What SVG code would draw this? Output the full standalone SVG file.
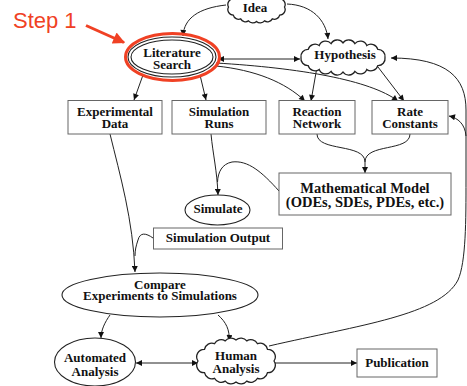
<svg xmlns="http://www.w3.org/2000/svg" width="467" height="386" viewBox="0 0 467 386">
<defs>
<marker id="ah" viewBox="0 0 10 10" refX="10" refY="5" markerUnits="userSpaceOnUse" markerWidth="10" markerHeight="6" orient="auto-start-reverse"><path d="M0,0 L10,5 L0,10 Z" fill="#111"/></marker>
<marker id="ahr" viewBox="0 0 10 10" refX="9" refY="5" markerUnits="userSpaceOnUse" markerWidth="16" markerHeight="12" orient="auto"><path d="M0,0 L10,5 L0,10 Z" fill="#f04124"/></marker>
</defs>
<style>
.c{fill:none;stroke:#222;stroke-width:1;}
.b{fill:#fff;stroke:#666;stroke-width:1;}
.e{fill:#fff;stroke:#222;stroke-width:1.1;}
.cl{fill:#fff;stroke:#222;stroke-width:1.3;}
.t{font-family:"Liberation Serif","Times New Roman",serif;font-weight:bold;font-size:13px;fill:#111;text-anchor:middle;}
</style>
<rect width="467" height="386" fill="#fff"/>
<g id="connectors">
<path class="c" d="M226,5 C199,8 184,18 183,36" marker-end="url(#ah)"/>
<path class="c" d="M287,4 C312,5 326,20 328,39" marker-end="url(#ah)"/>
<path class="c" d="M218,59 L300,59" marker-start="url(#ah)" marker-end="url(#ah)"/>
<path class="c" d="M216,66 C255,70 285,82 305,101" marker-end="url(#ah)"/>
<path class="c" d="M216,63 C300,68 370,80 398,101" marker-end="url(#ah)"/>
<path class="c" d="M317,67 L311,101" marker-end="url(#ah)"/>
<path class="c" d="M378,67 L404,101" marker-end="url(#ah)"/>
<path class="c" d="M317,134 C317,152 365,143 365,162 L365,173" marker-end="url(#ah)"/>
<path class="c" d="M410,134 C410,152 365,143 365,162"/>
<path class="c" d="M143,75 L134,100" marker-end="url(#ah)"/>
<path class="c" d="M200,75 L206,100" marker-end="url(#ah)"/>
<path class="c" d="M211,134 C213,155 217,170 218,195" marker-end="url(#ah)"/>
<path class="c" d="M279,191 C262,172 248,160 232,162 C222,164 218,172 217.5,182"/>
<path class="c" d="M110,134 C120,175 133,220 135,272" marker-end="url(#ah)"/>
<path class="c" d="M153,238 C146,233 140,232 138,240 C136,246 135,250 135,256"/>
<path class="c" d="M110,315 C105,322 101,330 101,338" marker-end="url(#ah)"/>
<path class="c" d="M218,315 C226,322 230,330 229,341" marker-end="url(#ah)"/>
<path class="c" d="M136,363 L198,363" marker-start="url(#ah)" marker-end="url(#ah)"/>
<path class="c" d="M275,363 L357,363" marker-end="url(#ah)"/>
<path class="c" d="M269,346 C360,325 440,315 458,280 C466,262 466,220 466,180 L466,110 C466,78 448,58 391,58" marker-end="url(#ah)"/>
<path class="c" d="M466,136 C465,124 458,118 449,116" marker-end="url(#ah)"/>
</g>
<g id="idea">
<path class="cl" d="M284.5,7 A5.5,5.5 0 0 1 279.7,15.1 A5.5,5.5 0 0 1 272.3,18.9 A5.5,5.5 0 0 1 264.5,20.9 A5.5,5.5 0 0 1 256.5,21.5 A5.5,5.5 0 0 1 248.5,20.9 A5.5,5.5 0 0 1 240.7,18.9 A5.5,5.5 0 0 1 233.3,15.1 A5.5,5.5 0 0 1 228.5,7 A5.5,5.5 0 0 1 233.3,-1.1 A5.5,5.5 0 0 1 240.7,-4.9 A5.5,5.5 0 0 1 248.5,-6.9 A5.5,5.5 0 0 1 256.5,-7.5 A5.5,5.5 0 0 1 264.5,-6.9 A5.5,5.5 0 0 1 272.3,-4.9 A5.5,5.5 0 0 1 279.7,-1.1 A5.5,5.5 0 0 1 284.5,7 Z"/>
<text class="t" x="255" y="11.5">Idea</text>
</g>
<g id="literature">
<ellipse class="e" cx="172" cy="57" rx="44" ry="20"/>
<ellipse class="e" cx="172" cy="57" rx="41" ry="17"/>
<text class="t" x="172" y="57">Literature</text>
<text class="t" x="172" y="69">Search</text>
</g>
<g id="hypothesis">
<path class="cl" d="M385,57.5 A7,7 0 0 1 377.8,65.6 A7,7 0 0 1 366.8,69.4 A7,7 0 0 1 354.9,71.4 A7,7 0 0 1 343,72 A7,7 0 0 1 331.1,71.4 A7,7 0 0 1 319.2,69.4 A7,7 0 0 1 308.2,65.6 A7,7 0 0 1 301,57.5 A7,7 0 0 1 308.2,49.4 A7,7 0 0 1 319.2,45.6 A7,7 0 0 1 331.1,43.6 A7,7 0 0 1 343,43 A7,7 0 0 1 354.9,43.6 A7,7 0 0 1 366.8,45.6 A7,7 0 0 1 377.8,49.4 A7,7 0 0 1 385,57.5 Z"/>
<text class="t" x="345" y="59">Hypothesis</text>
</g>
<g id="experimental-data">
<rect class="b" x="68" y="100.5" width="94" height="33.5"/>
<text class="t" x="115" y="115.5">Experimental</text>
<text class="t" x="115" y="128">Data</text>
</g>
<g id="simulation-runs">
<rect class="b" x="172" y="100.5" width="94" height="33.5"/>
<text class="t" x="219" y="115.5">Simulation</text>
<text class="t" x="219" y="128">Runs</text>
</g>
<g id="reaction-network">
<rect class="b" x="279" y="100.5" width="76" height="33.5"/>
<text class="t" x="317" y="115.5">Reaction</text>
<text class="t" x="317" y="128">Network</text>
</g>
<g id="rate-constants">
<rect class="b" x="372" y="100.5" width="76" height="33.5"/>
<text class="t" x="410" y="115.5">Rate</text>
<text class="t" x="410" y="128">Constants</text>
</g>
<g id="mathematical-model">
<rect class="b" x="279" y="173" width="172" height="42"/>
<text class="t" x="365" y="192.5" style="font-size:14.5px">Mathematical Model</text>
<text class="t" x="365" y="207" style="font-size:14.5px">(ODEs, SDEs, PDEs, etc.)</text>
</g>
<g id="simulate">
<ellipse class="e" cx="217.5" cy="210" rx="32.5" ry="15"/>
<text class="t" x="218" y="213">Simulate</text>
</g>
<g id="simulation-output">
<rect class="b" x="153.5" y="228" width="129" height="21"/>
<text class="t" x="218" y="242">Simulation Output</text>
</g>
<g id="compare">
<ellipse class="e" cx="160" cy="295" rx="98" ry="22"/>
<text class="t" x="160" y="288.5">Compare</text>
<text class="t" x="160" y="299.5">Experiments to Simulations</text>
</g>
<g id="automated-analysis">
<ellipse class="e" cx="95" cy="362" rx="40.5" ry="24"/>
<text class="t" x="95" y="362">Automated</text>
<text class="t" x="95" y="376">Analysis</text>
</g>
<g id="human-analysis">
<path class="cl" d="M274,361 A7.5,7.5 0 0 1 267.5,372.7 A7.5,7.5 0 0 1 257.5,378.3 A7.5,7.5 0 0 1 246.8,381.1 A7.5,7.5 0 0 1 236,382 A7.5,7.5 0 0 1 225.2,381.1 A7.5,7.5 0 0 1 214.5,378.3 A7.5,7.5 0 0 1 204.5,372.7 A7.5,7.5 0 0 1 198,361 A7.5,7.5 0 0 1 204.5,349.3 A7.5,7.5 0 0 1 214.5,343.7 A7.5,7.5 0 0 1 225.2,340.9 A7.5,7.5 0 0 1 236,340 A7.5,7.5 0 0 1 246.8,340.9 A7.5,7.5 0 0 1 257.5,343.7 A7.5,7.5 0 0 1 267.5,349.3 A7.5,7.5 0 0 1 274,361 Z"/>
<text class="t" x="236" y="360">Human</text>
<text class="t" x="236" y="373">Analysis</text>
</g>
<g id="publication">
<rect class="b" x="357" y="349" width="80" height="28"/>
<text class="t" x="397" y="367">Publication</text>
</g>
<g id="step1">
<ellipse cx="172.5" cy="57" rx="47" ry="23.5" fill="none" stroke="#f04124" stroke-width="3"/>
<path d="M86,25.5 L124,42.5" fill="none" stroke="#f04124" stroke-width="3" marker-end="url(#ahr)"/>
<text x="13" y="28" style="font-family:'Liberation Sans',Arial,sans-serif;font-size:22px;fill:#f04124">Step 1</text>
</g>
</svg>
